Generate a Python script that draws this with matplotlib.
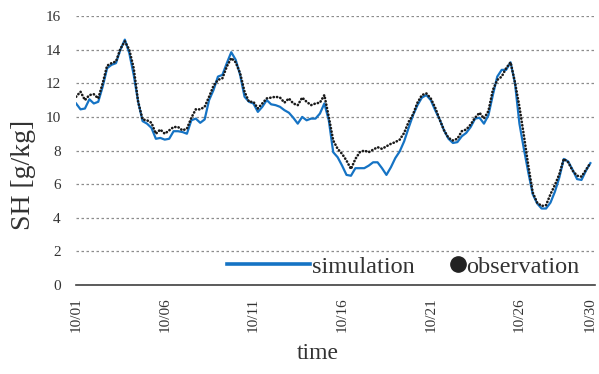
import matplotlib
matplotlib.use("Agg")
import matplotlib.pyplot as plt
from matplotlib.lines import Line2D

# time in days after 10/01 00:00, 6-hourly
days = [i * 0.25 for i in range(117)]

simulation = [
    10.8, 10.45, 10.5, 11.05, 10.8, 10.9, 11.8, 12.9, 13.1, 13.2, 14.0, 14.6,
    13.8, 12.5, 10.9, 9.75, 9.6, 9.35, 8.7, 8.75, 8.65, 8.7, 9.15, 9.15,
    9.1, 9.0, 9.8, 9.9, 9.65, 9.85, 11.0, 11.6, 12.4, 12.5, 13.2, 13.85,
    13.4, 12.5, 11.2, 10.9, 10.8, 10.3, 10.6, 11.0, 10.75, 10.7, 10.6, 10.4,
    10.25, 9.95, 9.6, 10.0, 9.8, 9.9, 9.9, 10.2, 10.8, 9.8, 7.9, 7.6,
    7.1, 6.55, 6.5, 6.95, 6.95, 6.95, 7.1, 7.3, 7.3, 6.95, 6.55, 7.0,
    7.55, 7.95, 8.55, 9.35, 10.1, 10.7, 11.15, 11.3, 11.0, 10.4, 9.85, 9.2,
    8.7, 8.45, 8.5, 8.85, 9.05, 9.4, 9.9, 9.95, 9.6, 10.1, 11.3, 12.4,
    12.8, 12.8, 13.25, 12.0, 9.6, 8.1, 6.7, 5.4, 4.85, 4.55, 4.55, 4.9,
    5.55, 6.4, 7.5, 7.35, 6.85, 6.3, 6.25, 6.8, 7.25,
]

observation = [
    11.2, 11.5, 11.0, 11.3, 11.35, 11.1, 12.0, 13.05, 13.2, 13.3, 14.05, 14.5,
    14.0, 12.9, 10.9, 9.85, 9.8, 9.65, 9.0, 9.25, 9.0, 9.2, 9.4, 9.4,
    9.2, 9.3, 9.95, 10.45, 10.45, 10.6, 11.2, 11.85, 12.2, 12.3, 13.0, 13.5,
    13.25, 12.6, 11.5, 10.9, 10.9, 10.5, 10.8, 11.1, 11.15, 11.2, 11.15, 10.85,
    11.1, 10.8, 10.7, 11.15, 10.9, 10.7, 10.8, 10.85, 11.3, 10.0, 8.6, 8.1,
    7.8, 7.4, 6.9, 7.5, 7.9, 8.0, 7.9, 8.05, 8.2, 8.1, 8.25, 8.4,
    8.5, 8.65, 9.05, 9.7, 10.15, 10.85, 11.3, 11.4, 11.1, 10.55, 9.85, 9.2,
    8.75, 8.6, 8.7, 9.15, 9.25, 9.55, 9.95, 10.25, 9.9, 10.35, 11.6, 12.2,
    12.4, 12.9, 13.25, 12.05, 10.6, 8.9, 7.1, 5.5, 4.9, 4.7, 4.75, 5.4,
    5.95, 6.6, 7.5, 7.3, 6.8, 6.5, 6.45, 6.85, 7.25,
]

tick_days = [0, 5, 10, 15, 20, 25, 29]
tick_labels = ["10/01", "10/06", "10/11", "10/16", "10/21", "10/26", "10/30"]

plt.rcParams["font.family"] = ["Liberation Serif", "DejaVu Serif"]

fig = plt.figure(figsize=(5.99, 3.74), dpi=100)
ax = fig.add_axes([0.127, 0.238, 0.866, 0.719])

ax.plot(days, simulation, color="#1573C4", lw=1.6, zorder=3)
ax.plot(days, observation, color="#1a1a1a", lw=1.9,
        linestyle=(0, (0.1, 1.2)), dash_capstyle="round", zorder=4)

ax.set_xlim(0, 29.25)
ax.set_ylim(0, 16)
ax.set_yticks(range(0, 17, 2))
ax.set_xticks(tick_days)
ax.set_xticklabels(tick_labels, rotation=90)
ax.tick_params(axis="both", length=0, labelsize=11, colors="#333333")
ax.tick_params(axis="x", pad=9)
ax.tick_params(axis="y", pad=11)

ax.yaxis.grid(True, color="#8c8c8c", lw=0.9, linestyle=(0, (2, 2)))
ax.set_axisbelow(True)
for side in ["left", "right", "top"]:
    ax.spines[side].set_visible(False)
ax.spines["bottom"].set_color("#404040")
ax.spines["bottom"].set_linewidth(1.2)
ax.spines["bottom"].set_zorder(5)

ax.set_ylabel("SH [g/kg]", fontsize=20, color="#333333")
ax.yaxis.set_label_coords(-0.078, 0.41)
ax.set_xlabel("time", fontsize=17, color="#333333")
ax.xaxis.set_label_coords(0.466, -0.215)

sim_handle = Line2D([], [], color="#1573C4", lw=2.6)
obs_handle = Line2D([], [], color="#222222", marker="o", markersize=11, lw=0)
leg1 = ax.legend([sim_handle], ["simulation"], loc="center left",
                 bbox_to_anchor=(0.291, 0.067), frameon=False, fontsize=17.5,
                 handlelength=3.4, handletextpad=0.1, borderpad=0,
                 borderaxespad=0)
for t in leg1.get_texts():
    t.set_color("#333333")
ax.add_artist(leg1)
leg2 = ax.legend([obs_handle], ["observation"], loc="center left",
                 bbox_to_anchor=(0.719, 0.067), frameon=False, fontsize=17.5,
                 handlelength=0.7, handletextpad=0.0, borderpad=0,
                 borderaxespad=0)
for t in leg2.get_texts():
    t.set_color("#333333")

fig.savefig("out.png", dpi=100)
